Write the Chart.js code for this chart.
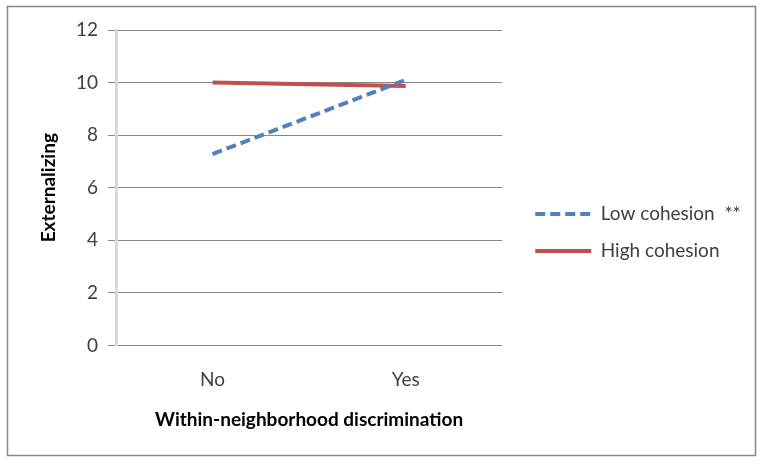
<!DOCTYPE html>
<html>
<head>
<meta charset="utf-8">
<script src="https://cdn.jsdelivr.net/npm/chart.js@4"></script>
<style>
  html, body { margin: 0; padding: 0; background: #fff; }
  #wrap { width: 764px; height: 463px; position: relative; }
</style>
</head>
<body>
<div id="wrap"><canvas id="chart" width="764" height="463"></canvas></div>
<script>
// Data
const categories = ['No', 'Yes'];
const lowCohesion = [7.28, 10.1];
const highCohesion = [10.0, 9.87];
const seriesNames = ['Low cohesion  **', 'High cohesion'];
const yTicks = [0, 2, 4, 6, 8, 10, 12];

const textColor = '#404040';
const fontFamily = 'Lato, "Open Sans", sans-serif';

const framePlugin = {
    id: 'frame',
    afterLayout(chart) {
        // legend box gets capped by the layout, so widen it and move it off the plot a bit
        const lg = chart.legend;
        lg.left = chart.chartArea.right + 15;
        lg.right = chart.width - 8;
        lg.width = lg.right - lg.left;
    },
    afterDraw(chart) {
        // outer frame like the Excel chart border
        const ctx = chart.ctx;
        ctx.save();
        ctx.strokeStyle = '#868686';
        ctx.lineWidth = 1.5;
        ctx.strokeRect(7.5, 6.5, 748, 449);
        ctx.restore();
    }
};

function drawChart() {
    new Chart(document.getElementById('chart'), {
        type: 'line',
        data: {
            labels: categories,
            datasets: [{
                label: seriesNames[0],
                data: lowCohesion,
                borderColor: '#4F81BD',
                backgroundColor: '#4F81BD',
                borderWidth: 4,
                borderDash: [10, 5],
                pointRadius: 0,
                fill: false,
                tension: 0
            }, {
                label: seriesNames[1],
                data: highCohesion,
                borderColor: '#C0504D',
                backgroundColor: '#C0504D',
                borderWidth: 4,
                pointRadius: 0,
                fill: false,
                tension: 0
            }]
        },
        options: {
            responsive: false,
            animation: false,
            layout: { padding: { top: 30, left: 20, right: 101, bottom: 28 } },
            plugins: {
                legend: {
                    position: 'right',
                    labels: {
                        usePointStyle: true,
                        pointStyle: 'line',
                        pointStyleWidth: 56,
                        boxHeight: 16,
                        padding: 18,
                        color: textColor,
                        font: { family: fontFamily, size: 19 },
                        generateLabels(chart) {
                            const items = Chart.defaults.plugins.legend.labels.generateLabels(chart);
                            items.forEach((item, i) => {
                                const ds = chart.data.datasets[i];
                                item.lineDash = ds.borderDash || [];
                                item.strokeStyle = ds.borderColor;
                                item.lineWidth = ds.borderWidth;
                            });
                            return items;
                        }
                    }
                },
                tooltip: { enabled: false }
            },
            scales: {
                x: {
                    offset: true,
                    grid: { display: false },
                    border: { display: false },
                    ticks: { color: textColor, font: { family: fontFamily, size: 19 }, padding: 15 },
                    title: {
                        display: true,
                        text: 'Within-neighborhood discrimination',
                        color: '#000',
                        font: { family: fontFamily, size: 19, weight: 'bold' },
                        padding: { top: 2 }
                    }
                },
                y: {
                    min: 0,
                    max: 12,
                    afterBuildTicks(scale) {
                        scale.ticks = yTicks.map(v => ({ value: v }));
                    },
                    afterFit(scale) {
                        scale.width = 96;
                    },
                    grid: { color: '#868686', lineWidth: 1, tickLength: 8, drawTicks: true },
                    border: { color: '#d9d9d9', width: 3 },
                    ticks: { color: textColor, font: { family: fontFamily, size: 19 }, padding: 10 },
                    title: {
                        display: true,
                        text: 'Externalizing',
                        color: '#000',
                        font: { family: fontFamily, size: 19, weight: 'bold' },
                        padding: { top: 17, bottom: 4 }
                    }
                }
            }
        },
        plugins: [framePlugin]
    });
}

Promise.all([
    document.fonts.load('19px Lato'),
    document.fonts.load('bold 19px Lato')
]).then(drawChart, drawChart);
</script>
</body>
</html>
